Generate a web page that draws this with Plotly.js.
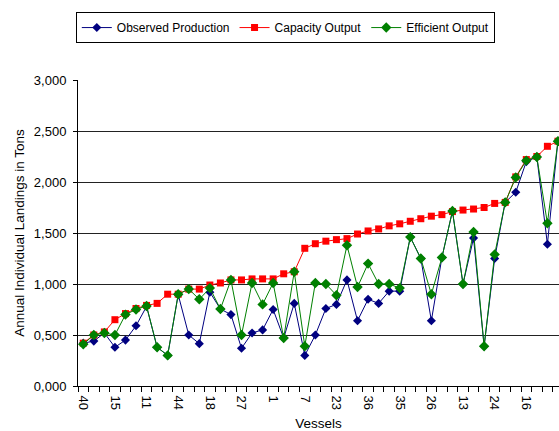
<!DOCTYPE html>
<html>
<head>
<meta charset="utf-8">
<script src="https://cdn.plot.ly/plotly-3.0.1.min.js"></script>
<style>html,body{margin:0;padding:0;background:#fff}#chart{width:559px;height:431px}</style>
</head>
<body>
<div id="chart"></div>
<script>
// Vessel tick labels (every third vessel is labelled on the axis)
const vesselLabels = ['40','15','11','44','18','27','1','7','23','36','35','26','13','24','16'];
const labelStep = 3;

// Values in thousands of tons (displayed with comma decimals)
const observed = [0.42,0.44,0.52,0.38,0.45,0.59,0.78,0.38,0.30,0.895,0.50,0.415,0.92,0.755,0.70,0.37,0.52,0.55,0.75,0.47,0.81,0.30,0.50,0.76,0.80,1.04,0.64,0.85,0.81,0.93,0.93,1.46,1.25,0.64,1.26,1.715,1.00,1.45,0.39,1.25,1.80,1.90,2.20,2.245,1.39,2.40];
const capacity = [0.42,0.50,0.53,0.65,0.71,0.76,0.79,0.81,0.90,0.90,0.95,0.95,0.99,1.01,1.04,1.04,1.05,1.05,1.05,1.10,1.12,1.35,1.395,1.42,1.435,1.445,1.49,1.52,1.54,1.57,1.59,1.615,1.64,1.665,1.68,1.71,1.725,1.735,1.75,1.79,1.80,2.05,2.22,2.25,2.35,2.40];
const efficient = [0.41,0.50,0.52,0.50,0.70,0.75,0.785,0.38,0.30,0.90,0.95,0.85,0.96,0.755,1.04,0.50,1.01,0.80,1.01,0.47,1.12,0.39,1.01,1.00,0.89,1.38,0.97,1.20,1.00,1.00,0.96,1.46,1.25,0.90,1.26,1.715,1.00,1.51,0.39,1.29,1.80,2.045,2.21,2.245,1.595,2.40];
const yTicks = [0,0.5,1,1.5,2,2.5,3];

const idx = capacity.map((_, i) => i);
const tickPos = vesselLabels.map((_, k) => k * labelStep);
const font = 'Liberation Sans, Arial, sans-serif';

const traces = [
  {name:'Observed Production', x: idx, y: observed, type:'scatter', mode:'lines+markers',
   line:{color:'#000080', width:1}, marker:{symbol:'diamond', size:7, color:'#000080'}},
  {name:'Capacity Output', x: idx, y: capacity, type:'scatter', mode:'lines+markers',
   line:{color:'#FF0000', width:1}, marker:{symbol:'square', size:7, color:'#FF0000'}},
  {name:'Efficient Output', x: idx, y: efficient, type:'scatter', mode:'lines+markers',
   line:{color:'#008000', width:1}, marker:{symbol:'diamond', size:8, color:'#008000'}}
];

const layout = {
  width:559, height:431,
  margin:{l:78, r:0, t:80, b:45, pad:0},
  paper_bgcolor:'#fff', plot_bgcolor:'#fff',
  separators:',.',
  font:{family:font, size:13, color:'#000'},
  showlegend:true,
  legend:{orientation:'h', x:0.431, xanchor:'center', y:1.222, yanchor:'top',
          bordercolor:'#000', borderwidth:1, font:{size:12, family:font},
          tracegroupgap:0, itemwidth:30},
  xaxis:{
    range:[-0.5, 45.1], showgrid:false, zeroline:false,
    showline:true, linecolor:'#000', linewidth:1,
    tickmode:'array', tickvals: tickPos, ticktext: vesselLabels,
    ticks:'', tickangle:90, tickfont:{size:13, family:font}, ticklabelstandoff:6,
    minor:{tickmode:'linear', tick0:-0.5, dtick:1, ticks:'outside', ticklen:5, tickcolor:'#000', showgrid:false},
    title:{text:'Vessels', font:{size:13.5, family:font}, standoff:9}
  },
  yaxis:{
    range:[0,3], tickmode:'array', tickvals:yTicks, tickformat:'.3f',
    showgrid:true, gridcolor:'#222', gridwidth:1, zeroline:false,
    showline:true, linecolor:'#000', linewidth:1,
    ticks:'outside', ticklen:4, tickcolor:'#000', tickfont:{size:13, family:font}, ticklabelstandoff:4,
    title:{text:'Annual Individual Landings in Tons', font:{size:13.5, family:font}, standoff:6}
  }
};

Plotly.newPlot('chart', traces, layout, {displayModeBar:false, staticPlot:true});
</script>
</body>
</html>
